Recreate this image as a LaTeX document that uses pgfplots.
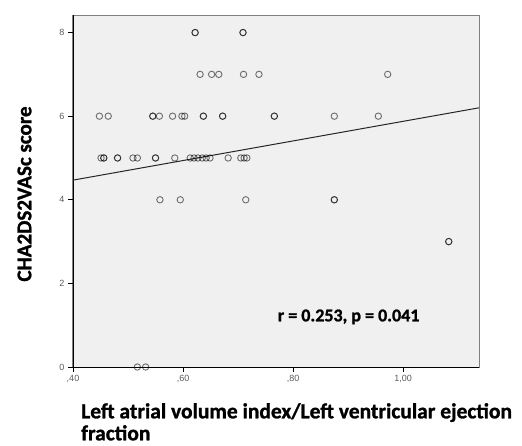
\documentclass[border=0pt]{standalone}
\usepackage{fontspec}
\setmainfont{Liberation Sans}
\newfontfamily\carlito[BoldFeatures={FakeBold=1.2}]{Carlito}
\usepackage{pgfplots}
\pgfplotsset{compat=1.18}
\definecolor{bgcol}{HTML}{F0F0F0}
\definecolor{framecol}{HTML}{808080}
\definecolor{ticklab}{HTML}{5A5A5A}

\begin{document}
\begin{tikzpicture}
\useasboundingbox (-73pt,-78pt) rectangle (449pt,367pt);
\begin{axis}[
  at={(0,0)}, anchor=south west,
  scale only axis, width=406pt, height=352pt,
  xmin=0.40, xmax=1.138, ymin=0, ymax=8.42,
  axis x line*=bottom, axis y line*=left,
  axis line style={black, line width=0.8pt, -},
  axis background/.style={fill=bgcol, draw=framecol, line width=1pt},
  xtick={0.4,0.6,0.8,1.0}, ytick={0,2,4,6,8},
  tick align=outside, major tick length=5pt,
  tick style={black, line width=0.8pt},
  /pgf/number format/assume math mode=true,
  ticklabel style={font=\fontsize{9}{9}\selectfont, text=ticklab},
  xticklabel style={/pgf/number format/.cd, fixed, fixed zerofill, precision=2, use comma, skip 0.},
  yticklabel style={/pgf/number format/.cd, fixed, precision=0},
  xlabel={Left atrial volume index/Left ventricular ejection\\fraction},
  xlabel style={font=\carlito\bfseries\fontsize{21.5}{22}\selectfont, align=left,
    at={(axis description cs:0,0)}, anchor=north west, inner sep=0pt,
    xshift=8pt, yshift=-36pt},
  ylabel={CHA2DS2VASc score},
  ylabel style={font=\carlito\bfseries\fontsize{21}{22}\selectfont,
    at={(axis description cs:-0.1195,0.4915)}, anchor=center, inner sep=0pt},
  clip=false,
]
% regression line
\addplot[black!85, line width=1pt, no marks] coordinates {(0.40,4.47) (1.138,6.20)};
% observations (duplicates overlap and look darker)
\addplot[only marks, mark=o, mark size=3.2pt,
  mark options={draw=black, draw opacity=0.55, line width=0.9pt}] coordinates {
  (0.622,8) (0.622,8) (0.709,8) (0.709,8)
  (0.631,7) (0.652,7) (0.665,7) (0.710,7) (0.738,7) (0.972,7)
  (0.448,6) (0.464,6) (0.545,6) (0.545,6) (0.557,6) (0.581,6) (0.598,6) (0.603,6)
  (0.637,6) (0.637,6) (0.672,6) (0.672,6) (0.766,6) (0.766,6) (0.875,6) (0.955,6)
  (0.451,5) (0.456,5) (0.456,5) (0.481,5) (0.481,5) (0.509,5) (0.517,5)
  (0.550,5) (0.550,5) (0.585,5) (0.613,5) (0.620,5) (0.627,5) (0.635,5)
  (0.642,5) (0.649,5) (0.682,5) (0.705,5) (0.711,5) (0.716,5)
  (0.558,4) (0.595,4) (0.714,4) (0.875,4) (0.875,4)
  (1.083,3) (1.083,3)
  (0.517,0) (0.532,0)
};
\node[font=\carlito\bfseries\fontsize{18}{18}\selectfont] at (axis cs:0.901,1.2) {r = 0.253, p = 0.041};
\end{axis}
\end{tikzpicture}
\end{document}
